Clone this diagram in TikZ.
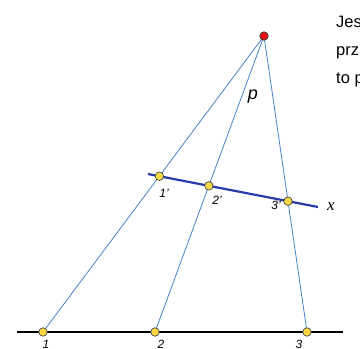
\documentclass[tikz,border=0pt]{standalone}
\usepackage{fontspec}
\setmainfont{Liberation Sans}
\newfontfamily\serifx{Liberation Serif}
\usetikzlibrary{positioning,calc}

\definecolor{raycol}{RGB}{70,130,200}
\definecolor{xcol}{RGB}{40,60,170}
\definecolor{dotcol}{RGB}{250,215,70}
\definecolor{redcol}{RGB}{225,20,20}

\begin{document}
\begin{tikzpicture}[
  x=1pt, y=-1pt,
  ray/.style={raycol, line width=0.8pt},
  xline/.style={xcol, line width=2.2pt},
  base/.style={black, line width=2.2pt},
  dot/.style={circle, draw=black!80, line width=0.6pt, fill=dotcol,
              minimum size=8.5pt, inner sep=0pt},
  centre/.style={dot, fill=redcol},
  lab/.style={font=\fontsize{12}{14}\selectfont\itshape, inner sep=0pt},
  note/.style={font=\fontsize{16.5}{20}\selectfont, inner sep=0pt, anchor=base west}
]
\clip (0,0) rectangle (360,349);

% points
\coordinate (S) at (264,36);
\coordinate (A1) at (43,332);
\coordinate (A2) at (155,332);
\coordinate (A3) at (307,332);
\coordinate (X1) at (148,174);
\coordinate (X2) at (318,207);
\coordinate (L1) at (17,332);
\coordinate (L2) at (343,332);
\coordinate (B1) at (intersection of S--A1 and X1--X2);
\coordinate (B2) at (intersection of S--A2 and X1--X2);
\coordinate (B3) at (intersection of S--A3 and X1--X2);

% rays from the centre
\draw[ray] (S) -- (A1);
\draw[ray] (S) -- (A2);
\draw[ray] (S) -- (A3);

% the two lines
\draw[xline] (X1) -- (X2);
\draw[base] (L1) -- (L2);

\node[dot] (a1) at (A1) {};
\node[dot] (a2) at (A2) {};
\node[dot] (a3) at (A3) {};
\node[dot] (b1) at (B1) {};
\node[dot] (b2) at (B2) {};
\node[dot] (b3) at (B3) {};
\node[centre] (s) at (S) {};

% labels
\node[lab, anchor=north] (l1) at (46,340) {1};
\node[lab, anchor=north] (l2) at (161,340) {2};
\node[lab, anchor=north] (l3) at (299,340) {3};
\node[lab] (m1) at (164,193) {1’};
\node[lab] (m2) at (217,200) {2’};
\node[lab] (m3) at (276,205) {3’};
\node[font=\fontsize{18}{20}\selectfont\itshape, inner sep=0pt] (p) at (253,97) {p};
\node[font=\fontsize{17}{20}\selectfont\serifx\itshape, inner sep=0pt] (xl) at (331,207) {x};

% text on the right
\node[note] (t1) at (336,27) {Jes};
\node[note] (t2) at (336,55) {prz};
\node[note] (t3) at (336,83) {to p};
\end{tikzpicture}
\end{document}
